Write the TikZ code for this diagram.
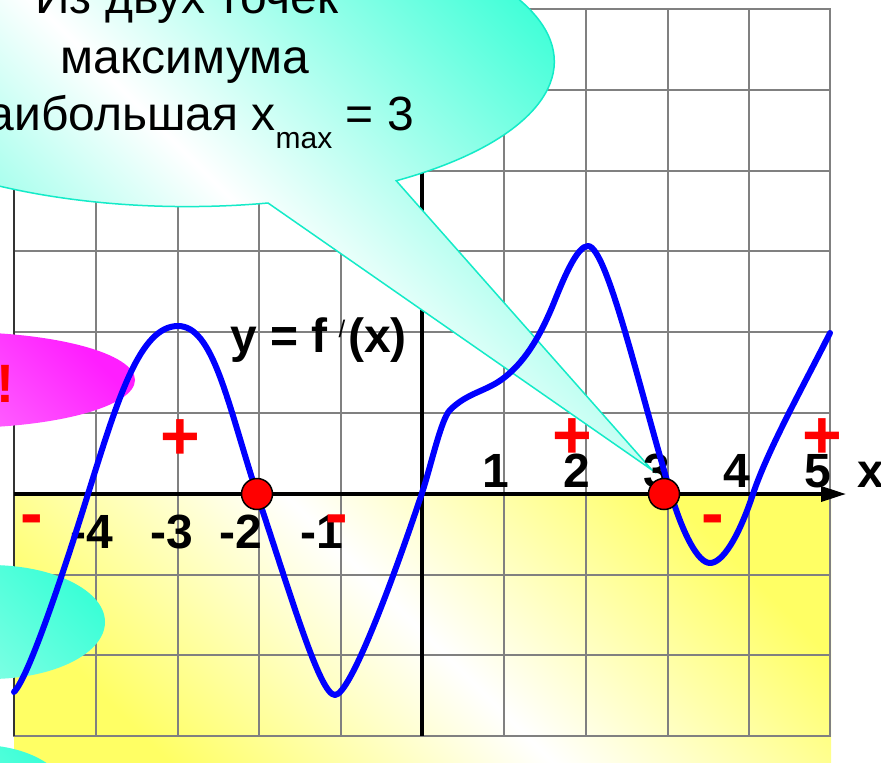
\documentclass[tikz,border=0pt]{standalone}
\usepackage{fontspec}
\setmainfont{Liberation Sans}
\usetikzlibrary{arrows.meta}
\definecolor{gridgray}{RGB}{128,128,128}
\definecolor{myyellow}{RGB}{255,255,100}
\definecolor{cyanA}{RGB}{60,255,215}
\definecolor{cyanB}{RGB}{150,255,232}
\definecolor{cyanedge}{RGB}{20,235,200}
\definecolor{magA}{RGB}{255,30,255}
\definecolor{magB}{RGB}{255,150,255}
\definecolor{curveblue}{RGB}{0,0,255}
\definecolor{signred}{RGB}{255,0,0}
\tikzset{
  gridline/.style={draw=gridgray, line width=2.4pt},
  axisline/.style={draw=black, line width=3.5pt},
  curveline/.style={draw=curveblue, line width=6pt, line join=round, line cap=round},
  rootdot/.style={circle, fill=signred, draw=black, line width=1.5pt, minimum size=31pt, inner sep=0pt},
  numlabel/.style={font=\fontsize{48}{48}\selectfont\bfseries, inner sep=0pt, anchor=base},
  signlabel/.style={font=\fontsize{68}{68}\selectfont\bfseries, text=signred, inner sep=0pt, anchor=base},
  bubbletext/.style={font=\fontsize{48}{48}\selectfont, inner sep=0pt},
}
\begin{document}
\begin{tikzpicture}[x=1pt,y=-1pt]
\useasboundingbox (0,0) rectangle (881,763);
\clip (0,0) rectangle (881,763);
\fill[white] (0,0) rectangle (881,763);
% yellow lower half-plane
\shade[top color=myyellow, bottom color=myyellow, middle color=white, shading angle=-45] (14,494) rectangle (831,770);
% grid
\foreach \gx in {96,178,259,341,504,586,668,749,830} \draw[gridline] (\gx,9) -- (\gx,736);
\foreach \gy in {9,90,171,251,332,413,575,655,736} \draw[gridline] (13,\gy) -- (831,\gy);
\draw[draw=black!80, line width=2.4pt] (14,9) -- (14,736);
% axes
\coordinate (xstart) at (14,494);
\coordinate (xend) at (846,494);
\coordinate (ytop) at (422,9);
\coordinate (ybot) at (422,736);
\draw[axisline] (ytop) -- (ybot);
\draw[axisline, -{Triangle[length=25pt,width=15pt]}] (xstart) -- (xend);
% pink bubble
\shade[top color=magA, bottom color=magB, shading angle=-45] (-43,380) ellipse [x radius=178, y radius=48];
% cyan bubbles
\shade[top color=cyanA, bottom color=cyanB, shading angle=-45] (-10,622) ellipse [x radius=115, y radius=57];
\shade[top color=cyanA, bottom color=cyanB, shading angle=-45] (-20,800) ellipse [x radius=90, y radius=55];
% big callout
\coordinate (tip) at (652,470);
\coordinate (cpA) at (268,203);
\shade[top color=cyanA, bottom color=cyanA, middle color=white, shading angle=-45, draw=cyanedge, line width=1.5pt]
  (tip) -- (cpA) arc[start angle=77.3, end angle=415.3, x radius=367, y radius=145] -- cycle;
% labels on axis
\node[numlabel] (l1) at (496,487) {1};
\node[numlabel] (l2) at (577,487) {2};
\node[numlabel] (l3) at (657,487) {3};
\node[numlabel] (l4) at (737,487) {4};
\node[numlabel] (l5) at (818,487) {5};
\node[numlabel] (lx) at (871,487) {x};
\node[numlabel] (lm4) at (92,548) {-4};
\node[numlabel] (lm3) at (172,548) {-3};
\node[numlabel] (lm2) at (241,548) {-2};
\node[numlabel] (lm1) at (322,548) {-1};
% curve y = f'(x)
\draw[curveline] (14,692) .. controls (30,676) and (70,552) .. (88,494)
 .. controls (118,398) and (140,326) .. (178,326)
 .. controls (213,326) and (227,401) .. (257,494)
 .. controls (292,599) and (320,695) .. (335,695)
 .. controls (350,695) and (392,583) .. (422,493)
 .. controls (431,466) and (441,419) .. (450,410)
 .. controls (468,392) and (487,391.6) .. (505,377)
 .. controls (522,363.4) and (538,342.5) .. (555,300)
 .. controls (566,272.5) and (578,246) .. (588,246)
 .. controls (607,246) and (641,395) .. (671,494)
 .. controls (683,534) and (698,563) .. (710,563)
 .. controls (722,563) and (738,539) .. (753,494)
 .. controls (768,449) and (805,383) .. (830,333);
% root dots
\node[rootdot] (r1) at (257,494) {};
\node[rootdot] (r2) at (664,494) {};
% signs
\node[signlabel] (p1) at (180,459) {+};
\node[signlabel] (p2) at (572,458) {+};
\node[signlabel] (p3) at (822,458) {+};
\node[signlabel] (m1) at (32,536) {-};
\node[signlabel] (m2) at (337,536) {-};
\node[signlabel] (m3) at (713,536) {-};
\node[font=\fontsize{54}{54}\selectfont\bfseries, text=signred, inner sep=0pt, anchor=base] (excl) at (5,402) {!};
% function label
\node[font=\fontsize{48}{48}\selectfont\bfseries, inner sep=0pt, anchor=base west] (flabel) at (230,352)
  {y = f\hspace{11pt}\raisebox{15pt}{\fontsize{24}{24}\selectfont\mdseries /}\hspace{3pt}(x)};
% callout text
\node[bubbletext, anchor=base] (t1) at (187,13) {Из двух точек};
\node[bubbletext, anchor=base] (t2) at (185,73) {максимума};
\node[bubbletext, anchor=base east] (t3) at (414,130)
  {наибольшая x\raisebox{-18pt}{\fontsize{30}{30}\selectfont max} = 3};
\end{tikzpicture}
\end{document}
